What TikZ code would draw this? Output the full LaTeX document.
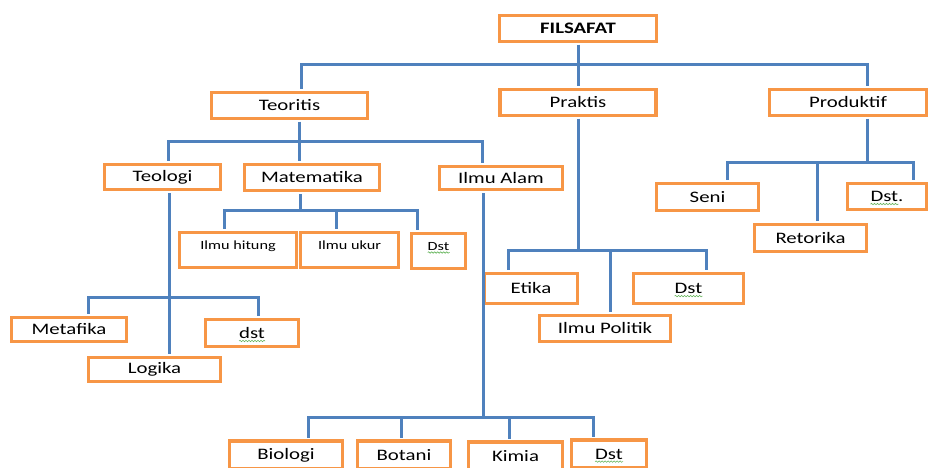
\documentclass[tikz,border=0pt]{standalone}
\usepackage{fontspec}
\setmainfont[FakeStretch=1.3]{Carlito}
\definecolor{BoxOrange}{RGB}{247, 150, 70}
\definecolor{LinkBlue}{RGB}{79, 129, 189}
\definecolor{SpellGreen}{RGB}{100, 180, 90}
\usetikzlibrary{decorations.pathmorphing}

\begin{document}
\begin{tikzpicture}[
        x=1pt, y=-1pt,
        box/.style 2 args={draw=BoxOrange, line width=3.5pt, fill=white, inner sep=0pt,
            minimum width=#1, minimum height=#2, font=\fontsize{16}{19}\selectfont},
        top_box/.style={draw=BoxOrange, line width=3.5pt, fill=white, inner ysep=0pt,
            minimum width=#1, text height=16.5pt, text depth=18.5pt, font=\fontsize{12.5}{15}\selectfont},
        link/.style={draw=LinkBlue, line width=3pt, shorten >=1.75pt, shorten <=1.75pt},
        spell_mark/.style={draw=SpellGreen, line width=0.6pt, decorate,
            decoration={snake, amplitude=0.7pt, segment length=3pt}}
    ]
        \useasboundingbox (0,0) rectangle (929,468);

        % Root and first level
        \node[box={157pt}{26pt}, font=\fontsize{16}{19}\selectfont\bfseries] (fil) at (578,28.5) {FILSAFAT};
        \node[box={156pt}{26pt}] (teo) at (289.5,105.5) {Teoritis};
        \node[box={156pt}{26pt}] (pra) at (578,102.5) {Praktis};
        \node[box={157pt}{26pt}] (pro) at (848,102.5) {Produktif};

        % Teoritis branch
        \node[box={116pt}{25pt}] (tel) at (162.5,177) {Teologi};
        \node[box={135pt}{26pt}] (mat) at (312,177.5) {Matematika};
        \node[box={123pt}{23pt}] (ila) at (501,178) {Ilmu Alam};

        \node[top_box=117pt] (hit) at (238,250) {Ilmu hitung};
        \node[top_box=98pt] (uku) at (349.5,250) {Ilmu ukur};
        \node[top_box=54pt] (dsm) at (438.5,251) {Dst};

        \node[box={115pt}{24pt}] (met) at (69,329.5) {Metafika};
        \node[box={93pt}{27pt}] (dsl) at (252,333) {dst};
        \node[box={132pt}{24pt}] (log) at (154.5,369.5) {Logika};

        \node[box={113pt}{28pt}] (bio) at (286,455) {Biologi};
        \node[box={93pt}{28pt}] (bot) at (404,455) {Botani};
        \node[box={94pt}{28pt}] (kim) at (515.5,456) {Kimia};
        \node[box={75pt}{28pt}] (dsb) at (609,454) {Dst};

        % Praktis branch
        \node[box={93pt}{30pt}] (eti) at (531,288.5) {Etika};
        \node[box={110pt}{30pt}] (dsp) at (688.5,288.5) {Dst};
        \node[box={131pt}{26pt}] (pol) at (605,328.5) {Ilmu Politik};

        % Produktif branch
        \node[box={102pt}{27pt}] (sen) at (707.5,197) {Seni};
        \node[box={112pt}{27pt}] (ret) at (810.5,238) {Retorika};
        \node[box={79pt}{26pt}] (dsr) at (887,196.5) {Dst.};

        % Bus points
        \coordinate (bus0) at (578,65);
        \coordinate (busT) at (299,142);
        \coordinate (busM) at (300,210);
        \coordinate (busL) at (169,297);
        \coordinate (busA) at (483,417);
        \coordinate (busP) at (578,250);
        \coordinate (busR) at (867,163);

        % Edges
        \draw[link] (fil.south) -- (bus0) -| ([xshift=11.5pt]teo.north);
        \draw[link] (fil.south) -- (bus0) -| (pra.north);
        \draw[link] (fil.south) -- (bus0) -| ([xshift=19pt]pro.north);

        \draw[link] ([xshift=9.5pt]teo.south) -- (busT) -| ([xshift=5.5pt]tel.north);
        \draw[link] ([xshift=9.5pt]teo.south) -- (busT) -| ([xshift=-13pt]mat.north);
        \draw[link] ([xshift=9.5pt]teo.south) -- (busT) -| ([xshift=-19pt]ila.north);

        \draw[link] ([xshift=-12pt]mat.south) -- (busM) -| ([xshift=-14pt]hit.north);
        \draw[link] ([xshift=-12pt]mat.south) -- (busM) -| ([xshift=-13.5pt]uku.north);
        \draw[link] ([xshift=-12pt]mat.south) -- (busM) -| ([xshift=-21.5pt]dsm.north);

        \draw[link] ([xshift=6.5pt]tel.south) -- (busL) -| ([xshift=19pt]met.north);
        \draw[link] ([xshift=6.5pt]tel.south) -- (busL) -| ([xshift=6pt]dsl.north);
        \draw[link] ([xshift=6.5pt]tel.south) -- ([xshift=14.5pt]log.north);

        \draw[link] ([xshift=-18pt]ila.south) -- (busA) -| ([xshift=22pt]bio.north);
        \draw[link] ([xshift=-18pt]ila.south) -- (busA) -| ([xshift=-3pt]bot.north);
        \draw[link] ([xshift=-18pt]ila.south) -- (busA) -| ([xshift=-6.5pt]kim.north);
        \draw[link] ([xshift=-18pt]ila.south) -- (busA) -| ([xshift=-16pt]dsb.north);

        \draw[link] (pra.south) -- (busP) -| ([xshift=-23pt]eti.north);
        \draw[link] (pra.south) -- (busP) -| ([xshift=5pt]pol.north);
        \draw[link] (pra.south) -- (busP) -| ([xshift=17.5pt]dsp.north);

        \draw[link] ([xshift=19pt]pro.south) -- (busR) -| ([xshift=19.5pt]sen.north);
        \draw[link] ([xshift=19pt]pro.south) -- (busR) -| ([xshift=6.5pt]ret.north);
        \draw[link] ([xshift=19pt]pro.south) -- (busR) -| ([xshift=26pt]dsr.north);

        % Spelling marks under dst
        \draw[spell_mark] ([yshift=-2.5pt]dsl.text) -- ++(26,0);
        \draw[spell_mark] ([yshift=-2.5pt]dsm.text) -- ++(22,0);
        \draw[spell_mark] ([yshift=-2.5pt]dsp.text) -- ++(28,0);
        \draw[spell_mark] ([yshift=-2.5pt]dsr.text) -- ++(28,0);
        \draw[spell_mark] ([yshift=-2.5pt]dsb.text) -- ++(28,0);
    \end{tikzpicture}
\end{document}
